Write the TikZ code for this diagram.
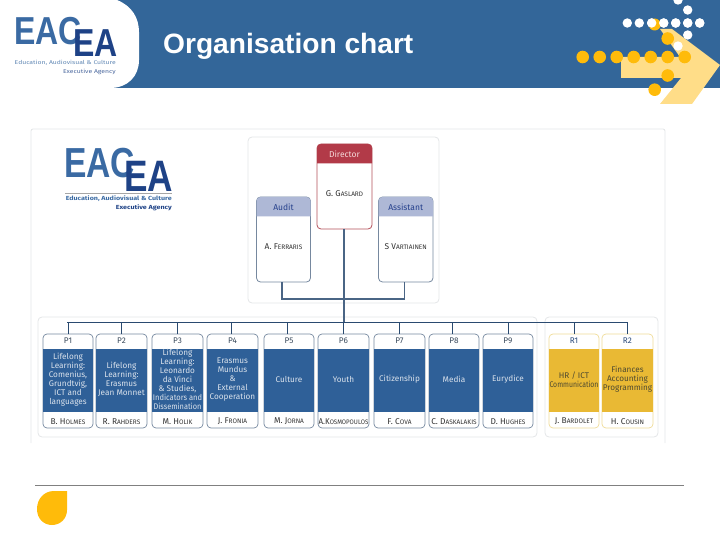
\documentclass[tikz,border=0pt]{standalone}
\usepackage{graphicx}
\usepackage{fontspec}
\setmainfont{Fira Sans}
\newfontfamily\titlefont{Liberation Sans}
\definecolor{hdr}{HTML}{336699}
\definecolor{logoA}{HTML}{3A6AA3}
\definecolor{logoB}{HTML}{1E4286}
\definecolor{orng}{HTML}{FFBB0A}
\definecolor{pale}{HTML}{FFDD88}
\definecolor{panel}{HTML}{E4E6E8}
\definecolor{bandB}{HTML}{2F6098}
\definecolor{bandY}{HTML}{E9B934}
\definecolor{edgeB}{HTML}{76889F}
\definecolor{edgeY}{HTML}{F0DC98}
\definecolor{busc}{HTML}{2A4A70}
\definecolor{headRed}{HTML}{B23A48}
\definecolor{edgeRed}{HTML}{B5505A}
\definecolor{headBlue}{HTML}{AEB8D6}
\newcommand{\sm}[1]{{\fontsize{6.5}{7}\selectfont #1}}
\newcommand{\unitbox}[7]{% name x1 x2 label text person kind
  \pgfmathsetmacro{\ww}{#3-#2}\pgfmathsetmacro{\mm}{(#2+#3)/2}
  \node[ubox,draw=edge#7,minimum width=\ww pt] (#1) at (\mm,381) {};
  \node[uband,fill=band#7,text=txt#7,minimum width=\ww pt] (#1band) at (\mm,380.5) {};
  \node[utext,text=txt#7] (#1text) at (\mm,379.5) {#5};
  \node[ulabel,text=lab#7] (#1label) at (\mm,341) {#4};
  \node[uname] (#1name) at (\mm,421.5) {#6};
}
\newcommand{\topbox}[9]{% name x1 x2 y1 y2 label person edge head
  \pgfmathsetmacro{\ww}{#3-#2}\pgfmathsetmacro{\hh}{#5-#4}\pgfmathsetmacro{\mm}{(#2+#3)/2}\pgfmathsetmacro{\cc}{(#4+#5)/2}
  \node[tbox,draw=#8,minimum width=\ww pt,minimum height=\hh pt] (#1) at (\mm,\cc) {};
  \pgfmathsetmacro{\hb}{#4+19.5}
  \fill[#9] (#2,\hb) [rounded corners=4pt] -- (#2,#4) -- (#3,#4) [sharp corners] -- (#3,\hb) -- cycle;
  \node[font=\fontsize{8.5}{10}\selectfont,text=tophead#1] (#1label) at (\mm,#4+10) {#6};
  \node[uname] (#1name) at (\mm,#4+49.5) {#7};
}
\colorlet{txtB}{white!82!bandB}
\definecolor{txtY}{HTML}{4F4A30}
\definecolor{labB}{HTML}{3A4A5C}
\definecolor{labY}{HTML}{2A4A7A}
\definecolor{topheaddir}{HTML}{F5DADA}
\definecolor{topheadaud}{HTML}{25408C}
\definecolor{topheadass}{HTML}{25408C}
\tikzset{
  ubox/.style={rectangle,rounded corners=4pt,fill=white,line width=.7pt,minimum height=94pt,inner sep=0pt,outer sep=0pt},
  uband/.style={rectangle,minimum height=63pt,inner sep=0pt,outer sep=0pt},
  utext/.style={align=center,inner sep=0pt,font=\fontsize{8.2}{9}\selectfont},
  ulabel/.style={inner sep=0pt,font=\fontsize{8.2}{10}\selectfont},
  uname/.style={inner sep=0pt,text=black!80,font=\fontsize{8.4}{10}\selectfont},
  tbox/.style={rectangle,rounded corners=4pt,fill=white,line width=.8pt,inner sep=0pt,outer sep=0pt},
  pnl/.style={draw=panel,fill=white,line width=.8pt,rounded corners=4pt},
  bus/.style={draw=busc,line width=.8pt},
  trunk/.style={draw=busc!85!white,line width=1.1pt},
  wdot/.style={fill=white},
  odot/.style={fill=orng},
  logoBig/.style={inner sep=0pt,anchor=west,font=\titlefont\bfseries,transform shape},
  logoSub/.style={inner sep=0pt,anchor=east,transform shape},
}
\begin{document}
\begin{tikzpicture}[x=1pt,y=-1pt]
\useasboundingbox (0,0) rectangle (720,540);
% header
\fill[hdr] (0,0) rectangle (720,88);
\fill[white] (0,0) -- (117,0) .. controls (132,6) and (139,18) .. (139,32) -- (139,60) .. controls (139,76) and (128,88) .. (110,88) -- (0,88) -- cycle;
\node[inner sep=0pt,anchor=west,text=white,font=\titlefont\bfseries\fontsize{28}{32}\selectfont,xscale=1.005,transform shape] (title) at (163,46.5) {Organisation chart};
% arrow and dots
\foreach \px in {627.3,639.3,651.7,663.7,675.7,687.7,699.7} {\fill[wdot] (\px,23) circle (4.7);}
\fill[odot] (654.7,24.5) circle (6);
\fill[wdot] (651.7,23) circle (4.7);
\fill[pale] (660,29) -- (672,29) -- (720,65) -- (692,104) -- (660,104) -- (681,78) -- (621,78) -- (621,57) -- (680,57) -- cycle;
\foreach \px in {582.7,599.7,616.7,633.7,650.7,667.7,684.7} {\fill[odot] (\px,57) circle (6.3);}
\fill[odot] (667.7,38.5) circle (6.3);
\fill[odot] (667.7,75.5) circle (6.3);
\fill[odot] (654.7,89.7) circle (6.3);
\fill[wdot] (678,0) circle (4.7);
\fill[wdot] (687.7,10) circle (4.7);
\fill[wdot] (687.7,35) circle (4.7);
\fill[wdot] (678,46) circle (4.7);
\foreach \px in {663.7,675.7,687.7,699.7} {\fill[wdot] (\px,23) circle (4.7);}
% header logo
\node[logoBig,text=logoA,font=\titlefont\bfseries\fontsize{39}{40}\selectfont,xscale=.82] (hlogoA) at (14,31) {EAC};
\node[logoBig,text=logoB,font=\titlefont\bfseries\fontsize{39}{40}\selectfont,xscale=.82] (hlogoB) at (73,43) {EA};
\node[logoSub,text=logoA!80!white,font=\fontsize{5.5}{6}\selectfont,xscale=1.24] (hlogoC) at (116,63) {Education, Audiovisual \& Culture};
\node[logoSub,text=logoB!80!white,font=\fontsize{5.5}{6}\selectfont,xscale=1.24] (hlogoD) at (116,72) {Executive Agency};
% outer panel
\draw[draw=panel,line width=.9pt,rounded corners=2pt] (31,443) -- (31,129) -- (665,129) -- (665,443);
% panel logo
\node[logoBig,text=logoA,font=\titlefont\bfseries\fontsize{42}{44}\selectfont,xscale=.8] (logoA) at (64,163) {EAC};
\node[logoBig,text=logoB,font=\titlefont\bfseries\fontsize{44}{44}\selectfont,xscale=.8] (logoB) at (124,176) {EA};
\draw[draw=black!35,line width=.3pt] (65,193) -- (172,193);
\node[logoSub,text=logoA,font=\bfseries\fontsize{5.9}{7}\selectfont,xscale=1.21] (logoC) at (172,198.5) {Education, Audiovisual \& Culture};
\node[logoSub,text=logoB,font=\bfseries\fontsize{5.9}{7}\selectfont,xscale=1.21] (logoD) at (172,207.5) {Executive Agency};
% panels
\draw[pnl] (248,137) rectangle (439,303);
\draw[pnl] (38,317) rectangle (537,437);
\draw[pnl] (545,317) rectangle (658,437);
% connector coordinates
\coordinate (topbus) at (344,299);
\coordinate (lowbus) at (344,322);
\coordinate (busL) at (67,322);
\coordinate (busR) at (627,322);
% top boxes
\topbox{dir}{317}{372}{144}{229}{Director}{G. G\sm{ASLARD}}{edgeRed}{headRed}
\topbox{aud}{256.5}{310.5}{197}{282}{Audit}{A. F\sm{ERRARIS}}{edgeB}{headBlue}
\topbox{ass}{378.5}{433}{197}{282}{Assistant}{S V\sm{ARTIAINEN}}{edgeB}{headBlue}
% units
\unitbox{P1}{43}{93}{P1}{Lifelong\\Learning:\\Comenius,\\Grundtvig,\\ICT and\\languages}{B. H\sm{OLMES}}{B}
\unitbox{P2}{96}{147}{P2}{Lifelong\\Learning:\\Erasmus\\Jean Monnet}{R. R\sm{AHDERS}}{B}
\unitbox{P3}{152}{203}{P3}{Lifelong\\Learning:\\Leonardo\\da Vinci\\\& Studies,\\\scalebox{.92}[1]{Indicators and}\\\scalebox{.9}[1]{Dissemination}}{M. H\sm{OLIK}}{B}
\unitbox{P4}{207}{258}{P4}{Erasmus\\Mundus\\\&\\External\\Cooperation}{J. F\sm{RONIA}}{B}
\unitbox{P5}{264}{314}{P5}{Culture}{M. J\sm{ORNA}}{B}
\unitbox{P6}{318}{369}{P6}{Youth}{\scalebox{.94}[1]{A.K\sm{OSMOPOULOS}}}{B}
\unitbox{P7}{374}{425}{P7}{Citizenship}{F. C\sm{OVA}}{B}
\unitbox{P8}{429}{479}{P8}{Media}{C. D\sm{ASKALAKIS}}{B}
\unitbox{P9}{483}{533}{P9}{Eurydice}{D. H\sm{UGHES}}{B}
\unitbox{R1}{549}{599}{R1}{HR / ICT\\\scalebox{.84}[1]{Communication}}{J. B\sm{ARDOLET}}{Y}
\unitbox{R2}{602}{653}{R2}{Finances\\Accounting\\Programming}{H. C\sm{OUSIN}}{Y}
% connectors
\draw[trunk] (dir.south -| topbus) -- (lowbus);
\draw[trunk] ([xshift=-1.5pt]aud.south) |- (topbus) -| ([xshift=-1.5pt]ass.south);
\draw[bus] (busL) -- (busR);
\foreach \n in {P1,P2,P3,P6,P7,P9,R1,R2} {\draw[bus] (\n.north) -- (\n.north |- lowbus);}
\foreach \n in {P4,P5,P8} {\draw[bus] ([xshift=-1.4pt]\n.north) -- ([xshift=-1.4pt]\n.north |- lowbus);}
% footer
\coordinate (footL) at (35,485.5);
\coordinate (footR) at (684,485.5);
\draw[black!50,line width=.8pt] (footL) -- (footR);
\fill[orng] (67,491) -- (67,510) .. controls (67,519) and (60,525) .. (52,525) .. controls (44,525) and (37,519) .. (37,509) .. controls (37,499) and (44,491) .. (54,491) -- cycle;
\end{tikzpicture}
\end{document}
